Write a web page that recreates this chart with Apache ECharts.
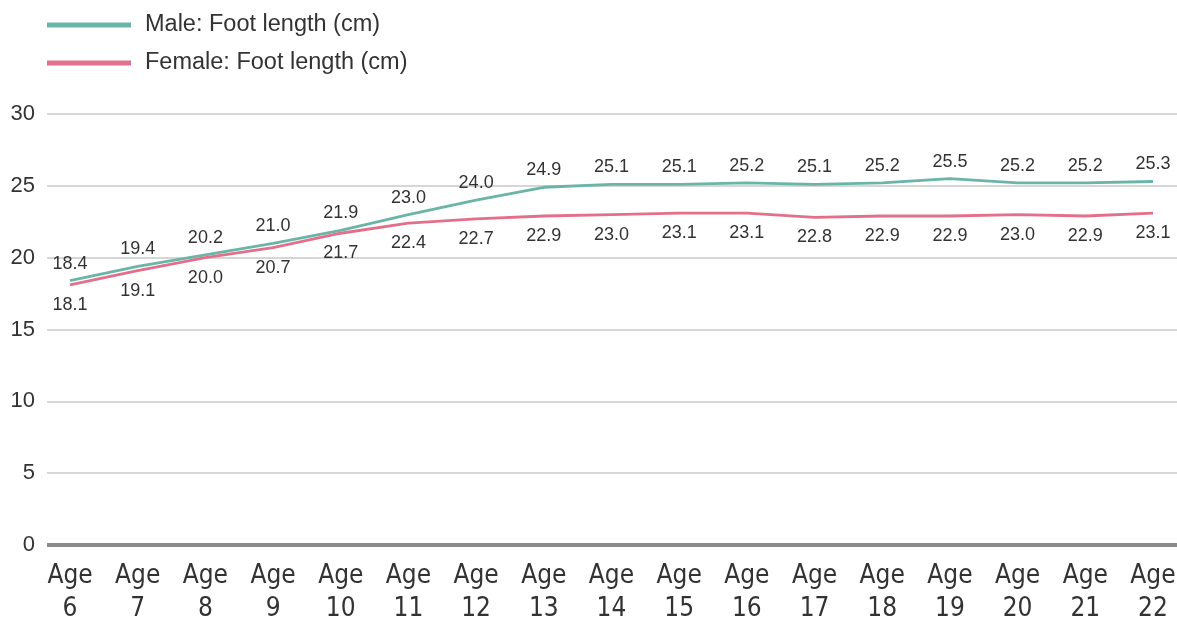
<!DOCTYPE html>
<html><head><meta charset="utf-8">
<script src="https://cdn.jsdelivr.net/npm/echarts@6/dist/echarts.min.js"></script>
<style>html,body{margin:0;padding:0;background:#fff}#c{width:1177px;height:619px}</style>
</head><body><div id="c"></div>
<script>
const ages = [6,7,8,9,10,11,12,13,14,15,16,17,18,19,20,21,22];
const maleFoot = [18.4,19.4,20.2,21.0,21.9,23.0,24.0,24.9,25.1,25.1,25.2,25.1,25.2,25.5,25.2,25.2,25.3];
const femaleFoot = [18.1,19.1,20.0,20.7,21.7,22.4,22.7,22.9,23.0,23.1,23.1,22.8,22.9,22.9,23.0,22.9,23.1];
const yTicks = [0,5,10,15,20,25,30];
const seriesNames = ['Male: Foot length (cm)','Female: Foot length (cm)'];
const colors = ['#6bb5a8','#e2708a'];

const chart = echarts.init(document.getElementById('c'), null, {renderer:'canvas'});
const mk = (name, vals, color, pos, dist) => ({
  name, type:'line', data: ages.map((a,i)=>[a, vals[i]]),
  symbol:'circle', symbolSize:0.01, showSymbol:true,
  lineStyle:{color, width:2.8}, itemStyle:{color},
  label:{show:true, position:pos, distance:dist, formatter:p=>p.value[1].toFixed(1),
    color:'#333', fontSize:18, fontFamily:'Liberation Sans, Arial, sans-serif'},
  labelLayout:{hideOverlap:false}
});
chart.setOption({
  animation:false,
  color: colors,
  legend:{orient:'vertical', left:42, top:8, itemWidth:84, itemHeight:5, itemGap:14,
    icon:'rect', data:seriesNames,
    textStyle:{fontSize:23.5, color:'#333', fontFamily:'Liberation Sans, Arial, sans-serif', padding:[0,0,0,9]}},
  grid:{left:47, right:0, top:114, bottom:74, containLabel:false, outerBoundsMode:'none'},
  xAxis:{type:'value', min:5.66, max:22.355,
    splitLine:{show:false}, axisLine:{show:false}, axisTick:{show:false},
    axisLabel:{customValues:ages, formatter:v=>'Age\n'+v, fontSize:26, lineHeight:33, color:'#333', margin:15,
      fontFamily:'DejaVu Sans Condensed, Liberation Sans Narrow, sans-serif'}},
  yAxis:{type:'value', min:yTicks[0], max:yTicks[yTicks.length-1], interval:5,
    axisLine:{show:false}, axisTick:{show:false},
    splitLine:{lineStyle:{color:'#d6d6d6', width:2}},
    axisLabel:{fontSize:22, color:'#333', margin:12, fontFamily:'Liberation Sans, Arial, sans-serif'}},
  series:[
    mk(seriesNames[0], maleFoot, colors[0], 'top', 8),
    mk(seriesNames[1], femaleFoot, colors[1], 'bottom', 11),
    {type:'line', data:[[5.66,0],[22.355,0]], symbol:'none', silent:true, lineStyle:{color:'#8a8a8a', width:4}, z:1}
  ]
});
</script></body></html>
